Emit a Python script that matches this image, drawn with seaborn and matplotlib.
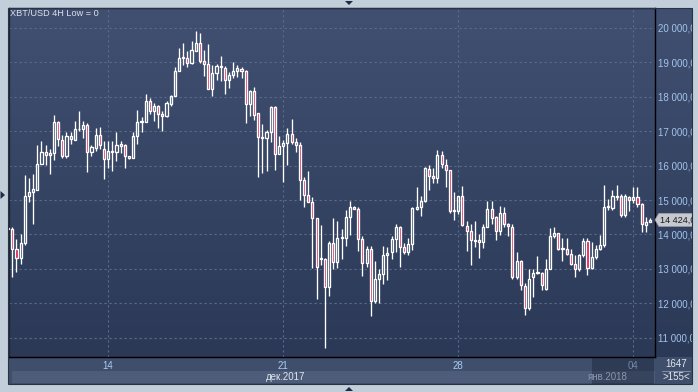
import numpy as np
import pandas as pd
import matplotlib
matplotlib.use("Agg")
import matplotlib.pyplot as plt
import seaborn as sns
from matplotlib.patches import Rectangle, Polygon
from matplotlib.lines import Line2D

# 4H candles XBT/USD, 10 dec 2017 .. 4 jan 2018
opens = [14150, 14150, 13590, 13320, 13740, 15120, 15230, 15290, 16050, 16400, 16310,
         16370, 17270, 16740, 16280, 16760, 16750, 17050, 17070, 17190, 16400,
         16510, 16900, 16470, 16180, 16400, 16390, 16560, 16610, 16270, 16220,
         16870, 17260, 17260, 17870, 17600, 17730, 17510, 17440, 17800, 18020,
         18740, 19120, 19140, 18990, 19330, 19570, 19030, 18960, 18240, 18700,
         18860, 18850, 18480, 18630, 18740, 18820, 18740, 17800, 18160, 17520,
         16800, 16800, 16970, 17700, 16330, 16570, 16650, 16920, 16680, 16600,
         15590, 15150, 14940, 14480, 13300, 13280, 12470, 13750, 13210, 13900,
         13900, 14520, 14800, 14750, 13880, 13180, 13570, 12060, 12720, 12860,
         13410, 13490, 13880, 14230, 13630, 13490, 13730, 14740, 14790, 14980,
         15900, 15710, 15640, 16320, 16030, 15880, 14680, 14690, 15130, 14260,
         14110, 13820, 13850, 13790, 14220, 14740, 14500, 14110, 14630, 14300,
         14210, 12750, 13240, 12510, 11850, 12750, 12890, 12890, 12410, 13010,
         13950, 14030, 13570, 13570, 13430, 13130, 12990, 13400, 13810, 13040,
         13350, 13580, 13690, 14790, 14780, 15090, 15120, 14560, 15100, 15000,
         15080, 14880, 14270, 14370]
highs = [14300, 14220, 13880, 14000, 15720, 15630, 15770, 16610, 16730, 16610, 16470,
         17480, 17310, 16900, 16980, 16980, 17310, 17580, 17290, 17240, 16610,
         17080, 17130, 16710, 16710, 16710, 16970, 16710, 16630, 16280, 16970,
         17630, 17410, 18080, 17970, 17820, 17750, 17580, 17870, 18060, 18870,
         19420, 19550, 19320, 19610, 19900, 19840, 19350, 19520, 18920, 18940,
         19180, 18890, 18720, 19010, 18920, 18870, 18770, 18190, 18290, 17540,
         17210, 17040, 17740, 17740, 16870, 16750, 17090, 17350, 16800, 16700,
         15660, 15850, 15100, 14480, 14280, 13310, 13800, 14470, 14400, 14170,
         14700, 14970, 14830, 14800, 13950, 13660, 13660, 13230, 12990, 13660,
         13640, 13950, 14290, 14240, 13760, 13910, 14790, 15370, 15130, 15950,
         16030, 15930, 16440, 16420, 16190, 15880, 15230, 15130, 15420, 14400,
         14300, 14400, 14010, 14290, 14980, 14980, 14530, 14830, 14810, 14320,
         14300, 13490, 13250, 12580, 12990, 12990, 13370, 12920, 13300, 14180,
         14210, 14030, 13890, 13890, 13590, 13400, 13430, 13910, 13890, 13790,
         13690, 13980, 15440, 15030, 15290, 15440, 15190, 15190, 15130, 15390,
         15390, 14900, 14520, 14470]
lows = [14050, 12750, 12900, 13140, 13700, 14940, 14300, 15290, 16050, 16030, 15750,
        16160, 16570, 16220, 16220, 16630, 16750, 17000, 16810, 15810, 16280,
        16420, 16470, 15600, 15930, 15840, 16130, 16370, 15920, 16200, 16220,
        16640, 16970, 17260, 17500, 17290, 17100, 17020, 17420, 17730, 18020,
        18740, 18920, 18870, 18950, 19330, 18990, 18610, 18230, 18020, 18480,
        18450, 18090, 18250, 18560, 18580, 18560, 17250, 17450, 17320, 15680,
        15780, 15830, 16700, 15880, 16330, 15520, 16020, 16630, 16410, 15000,
        14790, 14930, 13020, 12120, 13100, 10700, 12200, 13000, 13020, 13300,
        13660, 13980, 14730, 13520, 12790, 13060, 11630, 12000, 12020, 12550,
        12690, 13280, 13490, 13050, 13420, 13390, 13550, 14710, 14550, 14940,
        15290, 15500, 15500, 15930, 15370, 14610, 14420, 14600, 14260, 13510,
        13120, 13630, 13320, 13610, 14220, 14300, 13840, 13980, 14220, 13960,
        12700, 12700, 12400, 11650, 11800, 12170, 12860, 12380, 12400, 13000,
        13900, 13550, 13240, 13400, 13100, 12770, 12950, 13350, 12820, 13000,
        13300, 13560, 13650, 14700, 14710, 15000, 14510, 14500, 14680, 14900,
        14800, 14080, 14080, 14360]
closes = [14200, 13590, 13320, 13740, 15120, 15230, 15310, 16050, 16400, 16310, 16370,
          17260, 16760, 16280, 16850, 16870, 17070, 17070, 17190, 16400, 16550,
          16900, 16590, 16180, 16420, 16420, 16610, 16630, 16270, 16230, 16870,
          17260, 17280, 17870, 17600, 17730, 17510, 17450, 17820, 18020, 18740,
          19140, 19150, 18990, 19370, 19550, 19030, 18960, 18240, 18700, 18890,
          18890, 18480, 18630, 18740, 18840, 18760, 17800, 18160, 17480, 16830,
          16830, 16970, 17700, 16330, 16580, 16650, 16920, 16680, 16600, 15590,
          15150, 14940, 14480, 13050, 13310, 12470, 13750, 13210, 13890, 13920,
          14520, 14800, 14750, 13880, 13180, 13570, 12060, 12720, 12860, 13410,
          13470, 13880, 14230, 13630, 13490, 13730, 14780, 14790, 14980, 15920,
          15710, 15640, 16320, 16050, 15880, 14670, 14710, 15130, 14280, 14110,
          13850, 13850, 13790, 14220, 14740, 14480, 14110, 14630, 14290, 14240,
          12750, 13240, 12530, 11850, 12720, 12890, 12910, 12530, 13010, 13950,
          14030, 13590, 13610, 13430, 13140, 12990, 13400, 13810, 13040, 13350,
          13580, 13690, 14810, 14830, 15110, 15120, 14560, 15120, 15000, 15080,
          14880, 14290, 14350, 14424]

times = pd.date_range("2017-12-10 00:00", periods=len(opens), freq="4h")
tick_days = ["2017-12-14", "2017-12-21", "2017-12-28", "2018-01-04"]
tick_labels = ["14", "21", "28", "04"]
price_ticks = list(range(11000, 20001, 1000))
last_price = 14424.0

W, H = 698, 392


def fx(px):
    return px / W


def fy(py):
    return 1 - py / H


def rect(x0, y0, x1, y1, **kw):
    return Rectangle((fx(x0), fy(y1)), fx(x1) - fx(x0), fy(y0) - fy(y1),
                     transform=fig.transFigure, **kw)


sns.set_theme(style="dark")
plt.rcParams["font.family"] = ["Liberation Sans", "DejaVu Sans"]

df = pd.DataFrame({"t": times, "o": opens, "h": highs, "l": lows, "c": closes})
df["x"] = np.arange(len(df))
df["top"] = df[["o", "c"]].max(axis=1)
df["bot"] = df[["o", "c"]].min(axis=1)
df["up"] = df["c"] >= df["o"]

fig = plt.figure(figsize=(W / 100, H / 100), dpi=100)
fig.patch.set_facecolor("#c3cedb")

# gradient background for plot + right price panel
bg = fig.add_axes([fx(9), fy(357), fx(692) - fx(9), fy(8) - fy(357)], zorder=0)
grad = np.linspace(0, 1, 256).reshape(-1, 1)
top_c = np.array(matplotlib.colors.to_rgb("#415071"))
bot_c = np.array(matplotlib.colors.to_rgb("#2b3957"))
img = top_c[None, None, :] * (1 - grad[:, :, None]) + bot_c[None, None, :] * grad[:, :, None]
bg.imshow(img, aspect="auto", extent=[0, 1, 0, 1])
bg.set_axis_off()

# bottom time panel
fig.add_artist(rect(8, 357, 655, 384, facecolor="#3f4e6b", edgecolor="none", zorder=0.5))
fig.add_artist(rect(12, 371, 655, 383, facecolor="#4d5c79", edgecolor="none", zorder=0.5))
fig.add_artist(rect(592, 357, 654, 384, facecolor="#111a2c", alpha=0.35, edgecolor="none", zorder=0.6))
fig.add_artist(rect(655, 357, 692, 384, facecolor="#3f4e6b", edgecolor="none", zorder=0.5))

ax = fig.add_axes([fx(9), fy(357), fx(655) - fx(9), fy(8) - fy(357)], zorder=1)
ax.set_facecolor("none")

# wicks
ax.vlines(df["x"], df["top"], df["h"], color="white", lw=0.95, zorder=2)
ax.vlines(df["x"], df["l"], df["bot"], color="white", lw=0.95, zorder=2)
# bodies
body_h = (df["top"] - df["bot"]).clip(lower=25)
face = np.where(df["up"], "none", "#e3174c")
ax.bar(df["x"], body_h, bottom=df["bot"], width=0.5, color=face,
       edgecolor="white", linewidth=0.95, zorder=3)

ax.set_xlim(0.21, 155.2)
ax.set_ylim(10440, 20580)

tick_pos = [times.get_loc(pd.Timestamp(d)) for d in tick_days]
ax.set_xticks(tick_pos)
ax.set_xticklabels(tick_labels)
ax.set_yticks(price_ticks)
ax.set_yticklabels([f"{v:,.2f}".replace(",", " ").replace(".", ",") for v in price_ticks])
ax.yaxis.tick_right()
ax.tick_params(axis="y", length=0, pad=2.3, labelsize=7, labelcolor="#a3c4ec")
ax.tick_params(axis="x", length=0, pad=3.0, labelsize=7, labelcolor="#a9ccf2")
ax.get_xticklabels()[-1].set_color("#7488a8")
ax.grid(True, color="#5b6b89", lw=0.8, linestyle=(0, (2, 2.5)))
ax.set_axisbelow(True)
for s in ["top", "left"]:
    ax.spines[s].set_color("#1d2637")
    ax.spines[s].set_linewidth(1)
for s in ["bottom", "right"]:
    ax.spines[s].set_color("black")
    ax.spines[s].set_linewidth(1)

# month labels
xt = ax.get_xaxis_transform()
ax.text(tick_pos[1] + 0.6, -0.056, "дек.2017", transform=xt, ha="center", va="center",
        fontsize=7, color="#dfe6f0", clip_on=False)
ax.text(times.get_loc(pd.Timestamp("2018-01-03")), -0.056, "янв.2018", transform=xt,
        ha="center", va="center", fontsize=7, color="#8a96ab", clip_on=False)

# last price tag
yt = ax.get_yaxis_transform()
ytag = last_price
tag = Polygon([(1.0, ytag), (1.006, ytag + 190), (1.06, ytag + 190), (1.06, ytag - 190),
               (1.006, ytag - 190)], closed=True, transform=yt, facecolor="#c6cad0",
              edgecolor="#9aa0a8", lw=0.5, clip_on=False, zorder=5)
ax.add_patch(tag)
ax.text(1.0072, ytag, f"{last_price:,.1f}".replace(",", " ").replace(".", ","),
        transform=yt, ha="left", va="center", fontsize=6.6, color="#1a1a1a",
        clip_on=False, zorder=6)

# title
fig.text(fx(10), fy(14), "XBT/USD 4H Low = 0", fontsize=6.6, color="#dbe2ec",
         ha="left", va="center", zorder=5)

# bottom-right counter box
fig.text(fx(676), fy(364), "1647", fontsize=7, color="#e2e8f0", ha="center", va="center", zorder=5)
fig.text(fx(676), fy(377.5), ">155<", fontsize=7, color="#e2e8f0", ha="center", va="center", zorder=5)
fig.add_artist(Line2D([fx(662), fx(690)], [fy(370.5), fy(370.5)], color="#8e9bb0",
                      lw=0.6, transform=fig.transFigure, zorder=5))

# outer frame / borders (clip overflowing labels)
fig.add_artist(rect(692, 0, 698, 392, facecolor="#c3cedb", edgecolor="none", zorder=10))
fig.add_artist(rect(0, 384, 698, 392, facecolor="#c3cedb", edgecolor="none", zorder=10))
fig.add_artist(rect(8, 7.5, 692, 384, facecolor="none", edgecolor="#2a3345", lw=0.8, zorder=11))

# small navigation triangles
tri = dict(transform=fig.transFigure, facecolor="#1f2b40", edgecolor="none", zorder=12)
fig.add_artist(Polygon([(fx(345), fy(1)), (fx(353), fy(1)), (fx(349), fy(5))], **tri))
fig.add_artist(Polygon([(fx(345), fy(391)), (fx(353), fy(391)), (fx(349), fy(387))], **tri))
fig.add_artist(Polygon([(fx(0.5), fy(191)), (fx(0.5), fy(199)), (fx(5), fy(195))], **tri))

fig.savefig("out.png", dpi=100, facecolor=fig.get_facecolor())
